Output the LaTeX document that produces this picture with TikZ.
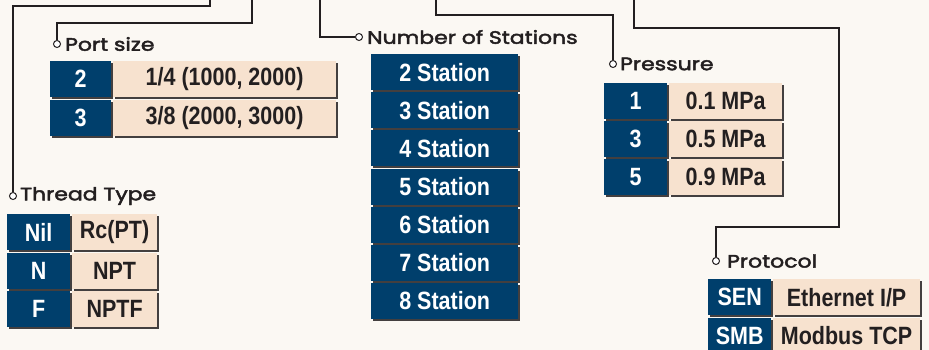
\documentclass[tikz,border=0pt]{standalone}
\usepackage{fontspec}
\usetikzlibrary{positioning, shadows}
\newfontfamily\cellfont[FakeStretch=0.86]{Liberation Sans}
\newfontfamily\labfont[FakeStretch=1.22, FakeBold=2.5]{Poppins}
\definecolor{keyblue}{RGB}{0,63,108}
\definecolor{peach}{RGB}{247,226,207}
\definecolor{inkdark}{RGB}{35,31,32}
\definecolor{bgcream}{RGB}{251,248,243}
\tikzset{
  keycell/.style={fill=keyblue, text=white, anchor=north west, inner sep=0pt,
    minimum height=36pt, font=\cellfont\bfseries\fontsize{25}{25}\selectfont,
    drop shadow={shadow xshift=2pt, shadow yshift=-2pt, opacity=0.85, fill=inkdark}},
  valcell/.style={keycell, fill=peach, text=inkdark},
  tag/.style={circle, draw=inkdark, fill=white, line width=1pt, minimum size=7pt, inner sep=0pt},
  taglabel/.style={font=\labfont\fontsize{18}{18}\selectfont, text=inkdark, inner sep=1pt},
  leader/.style={draw=inkdark, line width=2.2pt}
}

\begin{document}
\begin{tikzpicture}[x=1pt, y=-1pt]
\fill[bgcream] (0,0) rectangle (929,350);
\useasboundingbox (0,0) rectangle (929,350);

% free ends of the leaders at the top edge
\coordinate (topThread) at (210,-3);
\coordinate (topPort) at (252,-3);
\coordinate (topStations) at (320,-3);
\coordinate (topPressure) at (436,-3);
\coordinate (topProtocol) at (634,-3);
\coordinate (bendProtocol) at (839,227);

% port size
\node[tag] (tagPort) at (57,44) {};
\node[taglabel, right=3pt of tagPort] (labPort) {Port size};
\node[keycell, minimum width=61pt] (port2) at (50,61) {2};
\node[valcell, minimum width=223pt, right=1.5pt of port2] (port2v) {1/4 (1000, 2000)};
\node[keycell, minimum width=61pt, below=2pt of port2] (port3) {3};
\node[valcell, minimum width=223pt, right=1.5pt of port3] (port3v) {3/8 (2000, 3000)};

% thread type
\node[tag] (tagThread) at (13,196) {};
\node[taglabel, right=2pt of tagThread] (labThread) {Thread Type};
\node[keycell, minimum width=63pt] (threadNil) at (7,214) {Nil};
\node[valcell, minimum width=85pt, right=1.5pt of threadNil] (threadNilv) {Rc(PT)};
\node[keycell, minimum width=63pt, below=2pt of threadNil] (threadN) {N};
\node[valcell, minimum width=85pt, right=1.5pt of threadN] (threadNv) {NPT};
\node[keycell, minimum width=63pt, below=2pt of threadN] (threadF) {F};
\node[valcell, minimum width=85pt, right=1.5pt of threadF] (threadFv) {NPTF};

% number of stations
\node[tag] (tagStations) at (359,37) {};
\node[taglabel, right=3pt of tagStations] (labStations) {Number of Stations};
\node[keycell, minimum width=147pt] (st2) at (371,54) {2 Station};
\foreach \n [remember=\n as \m (initially 2)] in {3,...,8}
  \node[keycell, minimum width=147pt, below=1.7pt of st\m] (st\n) {\n\ Station};

% pressure
\node[tag] (tagPressure) at (613,64) {};
\node[taglabel, right=2pt of tagPressure] (labPressure) {Pressure};
\node[keycell, minimum width=63pt] (pr1) at (604,83) {1};
\node[valcell, minimum width=113pt, right=1.5pt of pr1] (pr1v) {0.1 MPa};
\node[keycell, minimum width=63pt, below=1.5pt of pr1] (pr3) {3};
\node[valcell, minimum width=113pt, right=1.5pt of pr3] (pr3v) {0.5 MPa};
\node[keycell, minimum width=63pt, below=1.5pt of pr3] (pr5) {5};
\node[valcell, minimum width=113pt, right=1.5pt of pr5] (pr5v) {0.9 MPa};

% protocol
\node[tag] (tagProtocol) at (716,261) {};
\node[taglabel, right=6pt of tagProtocol] (labProtocol) {Protocol};
\node[keycell, minimum width=63pt] (protSEN) at (708,279) {SEN};
\node[valcell, minimum width=147pt, right=1.5pt of protSEN] (protSENv) {Ethernet I/P};
\node[keycell, minimum width=63pt, below=2pt of protSEN] (protSMB) {SMB};
\node[valcell, minimum width=147pt, right=1.5pt of protSMB] (protSMBv) {Modbus TCP};

% leaders
\draw[leader] (topThread) -- ++(0,9) -| (tagThread);
\draw[leader] (topPort) -- ++(0,26) -| (tagPort);
\draw[leader] (topStations) |- (tagStations);
\draw[leader] (topPressure) -- ++(0,18) -| (tagPressure);
\draw[leader] (topProtocol) -- ++(0,31) -| (bendProtocol) -| (tagProtocol);
\end{tikzpicture}
\end{document}
